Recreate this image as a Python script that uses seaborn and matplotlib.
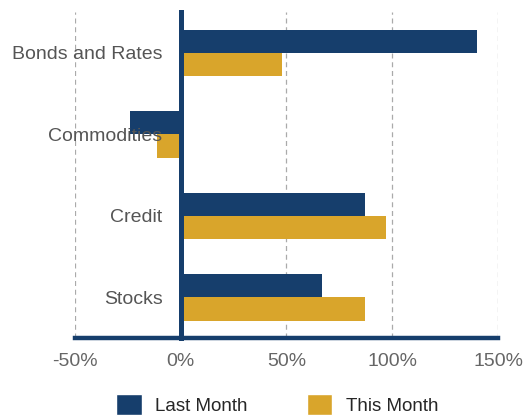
import pandas as pd
import matplotlib.pyplot as plt
import seaborn as sns
from matplotlib.patches import Patch

NAVY = "#163e6c"
GOLD = "#d9a52b"

categories = ["Bonds and Rates", "Commodities", "Credit", "Stocks"]
last_month = [140, -24, 87, 67]
this_month = [48, -11, 97, 87]
periods = ["Last Month", "This Month"]
x_ticks = [-50, 0, 50, 100, 150]
x_tick_labels = ["-50%", "0%", "50%", "100%", "150%"]


def build_frame():
    rows = []
    for cat, lm, tm in zip(categories, last_month, this_month):
        rows.append({"category": cat, "period": periods[0], "value": lm})
        rows.append({"category": cat, "period": periods[1], "value": tm})
    return pd.DataFrame(rows)


def main():
    sns.set_style("white")
    plt.rcParams["font.family"] = ["Liberation Sans", "DejaVu Sans"]

    df = build_frame()

    fig = plt.figure(figsize=(5.31, 4.17), dpi=100)
    ax = fig.add_axes([0.141, 0.189, 0.797, 0.782])

    sns.barplot(
        data=df, y="category", x="value", hue="period",
        order=categories, hue_order=periods,
        palette=[NAVY, GOLD], saturation=1, width=0.57,
        orient="h", ax=ax, legend=False, zorder=2, linewidth=0,
    )

    ax.set_xlim(-50, 150)
    ax.set_ylim(3.5, -0.5)
    ax.set_xticks(x_ticks)
    ax.set_xticklabels(x_tick_labels, fontsize=14, color="#666666")
    ax.set_xlabel("")
    ax.set_ylabel("")
    ax.set_axisbelow(False)

    # dashed vertical grid
    for x in x_ticks:
        if x != 0:
            ax.axvline(x, color="#aaaaaa", linestyle=(0, (4, 3)), linewidth=0.9, zorder=0)

    for side in ["top", "right"]:
        ax.spines[side].set_visible(False)
    ax.spines["left"].set_position(("data", 0))
    ax.spines["left"].set_color(NAVY)
    ax.spines["left"].set_linewidth(3.6)
    ax.spines["left"].set_zorder(3)
    ax.spines["bottom"].set_color(NAVY)
    ax.spines["bottom"].set_linewidth(3.2)
    ax.spines["bottom"].set_zorder(3)

    ax.set_yticks(range(len(categories)))
    ax.set_yticklabels(categories, fontsize=14, color="#555555")
    ax.set_yticks([-0.5, 0.5, 1.5, 2.5, 3.5], minor=True)
    ax.tick_params(axis="y", which="major", length=0, pad=13)
    ax.tick_params(axis="y", which="minor", length=5, width=3, color=NAVY, direction="out")
    ax.tick_params(axis="x", which="major", length=5, width=3, color=NAVY, direction="out", pad=6)

    handles = [Patch(facecolor=NAVY), Patch(facecolor=GOLD)]
    fig.legend(
        handles, periods, loc="center", bbox_to_anchor=(0.522, 0.03), ncol=2,
        frameon=False, fontsize=13.5, handlelength=1.35, handleheight=1.35,
        handletextpad=0.7, columnspacing=3.2,
    )

    fig.savefig("out.png", dpi=100)
    plt.close(fig)


if __name__ == "__main__":
    main()
